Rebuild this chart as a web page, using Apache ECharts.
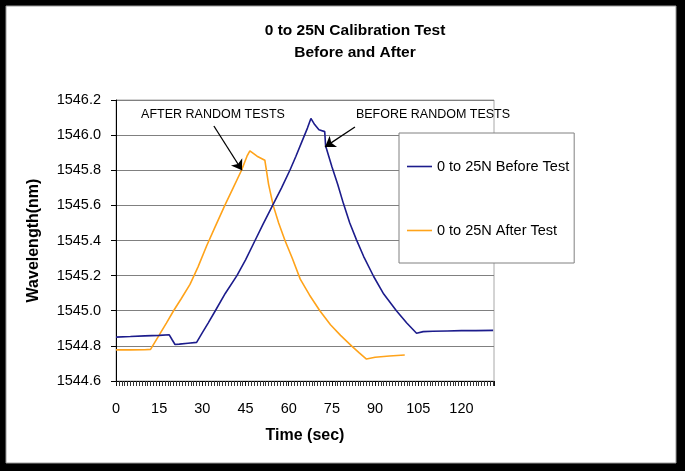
<!DOCTYPE html>
<html>
<head>
<meta charset="utf-8">
<script src="https://cdn.jsdelivr.net/npm/echarts@6/dist/echarts.min.js"></script>
<style>
  html, body { margin: 0; padding: 0; background: #000; }
  #chart { width: 685px; height: 471px; }
</style>
</head>
<body>
<div id="chart"></div>
<script>
// ---- Data ----
var titleLines = ['0 to 25N Calibration Test', 'Before and After'];
var seriesNames = ['0 to 25N Before Test', '0 to 25N After Test'];
var xAxisName = 'Time (sec)';
var yAxisName = 'Wavelength(nm)';
var xTicks = [0, 15, 30, 45, 60, 75, 90, 105, 120];
var yTicks = [1544.6, 1544.8, 1545.0, 1545.2, 1545.4, 1545.6, 1545.8, 1546.0, 1546.2];

var beforeTime = [0, 5, 10, 15, 18.5, 19.5, 20.5, 22, 25, 28, 30, 32, 34.5, 38, 42, 45, 48.3, 51, 54.4, 57.5, 60.4, 62.5, 64.5, 66.5, 67.7, 69, 70.5, 72.5, 72.8, 75, 77, 79, 81.2, 83.5, 86, 89.5, 93, 97.4, 101, 104.4, 106.7, 110, 115, 120, 125, 131];
var beforeValue = [1544.850, 1544.853, 1544.857, 1544.860, 1544.863, 1544.835, 1544.808, 1544.810, 1544.815, 1544.820, 1544.875, 1544.930, 1545.000, 1545.100, 1545.200, 1545.290, 1545.400, 1545.490, 1545.600, 1545.700, 1545.800, 1545.880, 1545.960, 1546.040, 1546.095, 1546.060, 1546.030, 1546.020, 1545.940, 1545.820, 1545.720, 1545.610, 1545.500, 1545.405, 1545.310, 1545.195, 1545.095, 1545.000, 1544.930, 1544.872, 1544.881, 1544.883, 1544.885, 1544.887, 1544.887, 1544.888];

var afterTime = [0, 5, 10, 12, 15.3, 17.5, 20, 22.7, 25.7, 28.5, 31.5, 34.5, 37.8, 40.7, 43.6, 45.5, 46.5, 49, 51.7, 53, 54.6, 56.5, 58.7, 61.2, 64, 67.2, 70.8, 74.5, 78, 81.8, 84.5, 87, 90, 95, 100.3];
var afterValue = [1544.777, 1544.777, 1544.778, 1544.780, 1544.870, 1544.930, 1545.000, 1545.070, 1545.150, 1545.250, 1545.370, 1545.480, 1545.600, 1545.700, 1545.800, 1545.880, 1545.910, 1545.880, 1545.857, 1545.720, 1545.600, 1545.500, 1545.400, 1545.300, 1545.180, 1545.090, 1545.000, 1544.920, 1544.860, 1544.800, 1544.760, 1544.725, 1544.735, 1544.742, 1544.748];

// annotation texts and arrow endpoints (data space)
var annoTexts = ['AFTER RANDOM TESTS', 'BEFORE RANDOM TESTS'];
var afterArrow = [[34.0, 1546.052], [43.75, 1545.80]];
var beforeArrow = [[83.0, 1546.046], [72.6, 1545.933]];

function pairs(xs, ys) { return xs.map(function (x, i) { return [x, ys[i]]; }); }

var FONT = 'Liberation Sans, Arial, sans-serif';
var chart = echarts.init(document.getElementById('chart'), null, { renderer: 'canvas' });

var arrowLine = function (pts) {
  return {
    silent: true,
    symbol: ['none', 'arrow'],
    symbolSize: 10,
    lineStyle: { color: '#000', width: 1.3, type: 'solid' },
    itemStyle: { color: '#000' },
    label: { show: false },
    emphasis: { disabled: true },
    data: [[{ coord: pts[0] }, { coord: pts[1] }]]
  };
};

chart.setOption({
  backgroundColor: '#000',
  animation: false,
  graphic: {
    elements: [
      { type: 'rect', z: -100, silent: true, shape: { x: 6, y: 6, width: 670, height: 457 }, style: { fill: '#fff', stroke: '#9a9a9a', lineWidth: 1 } },
      { type: 'text', x: 355, y: 31, silent: true, style: { text: titleLines[0], font: 'bold 15.5px ' + FONT, fill: '#000', textAlign: 'center', textVerticalAlign: 'middle' } },
      { type: 'text', x: 355, y: 53, silent: true, style: { text: titleLines[1], font: 'bold 15.5px ' + FONT, fill: '#000', textAlign: 'center', textVerticalAlign: 'middle' } },
      { type: 'text', x: 213, y: 115, silent: true, style: { text: annoTexts[0], font: '12.5px ' + FONT, fill: '#000', textAlign: 'center', textVerticalAlign: 'middle' } },
      { type: 'text', x: 433, y: 115, silent: true, style: { text: annoTexts[1], font: '12.5px ' + FONT, fill: '#000', textAlign: 'center', textVerticalAlign: 'middle' } }
    ]
  },
  grid: { left: 116, right: 191, top: 100, bottom: 90, show: true, borderColor: '#a8a8a8', borderWidth: 1, backgroundColor: 'transparent' },
  legend: {
    data: seriesNames,
    orient: 'vertical',
    left: 399,
    top: 133,
    padding: [26, 5, 25, 8],
    itemGap: 49,
    itemWidth: 25,
    itemHeight: 1.6,
    icon: 'rect',
    backgroundColor: '#fff',
    borderColor: '#808080',
    borderWidth: 1,
    textStyle: { fontSize: 14.5, color: '#000', fontFamily: FONT }
  },
  xAxis: {
    type: 'value',
    min: 0,
    max: 131.3,
    interval: 15,
    name: xAxisName,
    nameLocation: 'middle',
    nameGap: 47,
    nameTextStyle: { fontSize: 16, fontWeight: 'bold', color: '#000', fontFamily: FONT },
    axisLine: { show: true, lineStyle: { color: '#000', width: 1 } },
    axisTick: { show: true, length: 5, lineStyle: { color: '#111' } },
    minorTick: { show: true, splitNumber: 15, length: 5, lineStyle: { color: '#333' } },
    splitLine: { show: false },
    axisLabel: {
      fontSize: 14.5, color: '#000', fontFamily: FONT, margin: 20, showMaxLabel: false,
      formatter: function (v) { return xTicks.indexOf(v) >= 0 ? String(v) : ''; }
    }
  },
  yAxis: {
    type: 'value',
    min: yTicks[0],
    max: yTicks[yTicks.length - 1],
    interval: 0.2,
    name: yAxisName,
    nameLocation: 'middle',
    nameGap: 74,
    nameTextStyle: { fontSize: 16, fontWeight: 'bold', color: '#000', fontFamily: FONT },
    axisLine: { show: true, lineStyle: { color: '#000', width: 1 } },
    axisTick: { show: true, length: 5, lineStyle: { color: '#000' } },
    splitLine: { show: true, lineStyle: { color: '#808080', width: 1 } },
    axisLabel: {
      fontSize: 14.5, color: '#000', fontFamily: FONT, margin: 15,
      formatter: function (v) { return v.toFixed(1); }
    }
  },
  series: [
    {
      name: seriesNames[0],
      type: 'line',
      data: pairs(beforeTime, beforeValue),
      symbol: 'none',
      smooth: false,
      lineStyle: { color: '#1c1c8c', width: 1.6 },
      itemStyle: { color: '#1c1c8c' },
      markLine: arrowLine(beforeArrow),
      z: 3
    },
    {
      name: seriesNames[1],
      type: 'line',
      data: pairs(afterTime, afterValue),
      symbol: 'none',
      smooth: false,
      lineStyle: { color: '#ffa31a', width: 1.6 },
      itemStyle: { color: '#ffa31a' },
      markLine: arrowLine(afterArrow),
      z: 2
    }
  ]
});
</script>
</body>
</html>
